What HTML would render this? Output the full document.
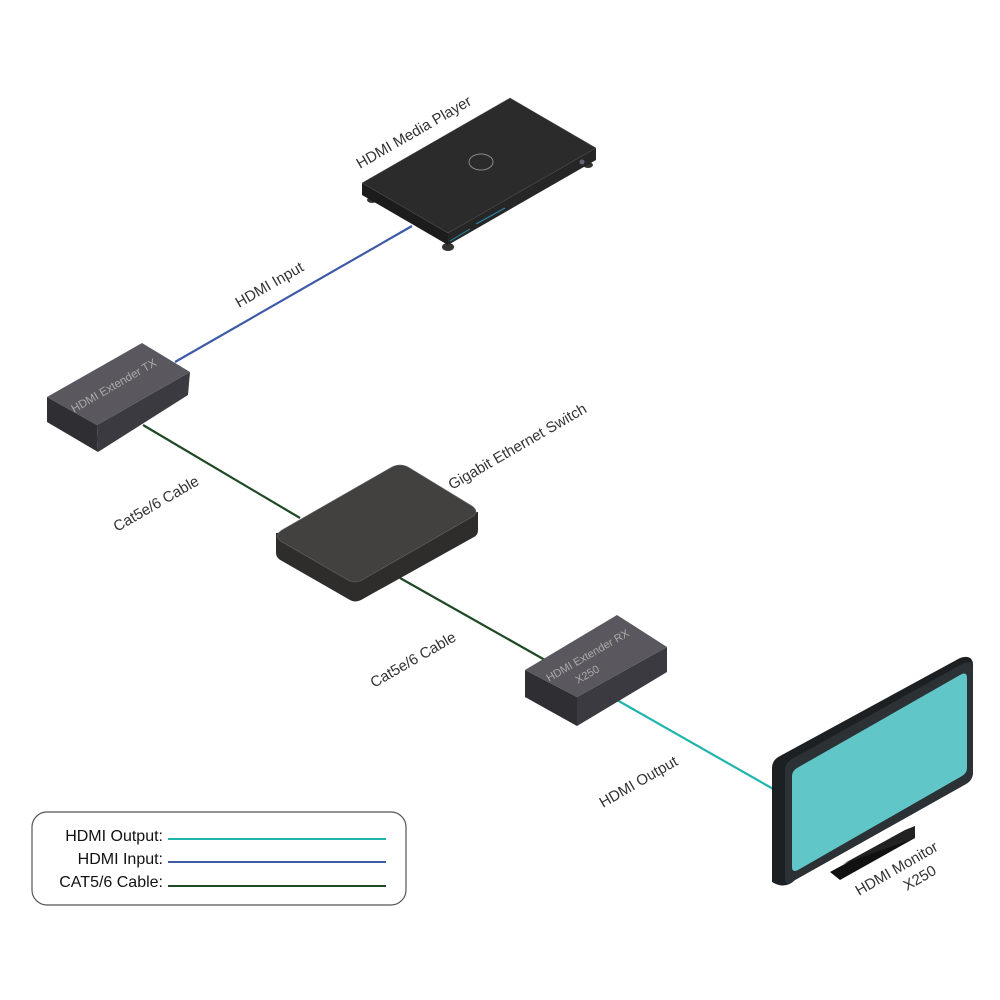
<!DOCTYPE html>
<html><head><meta charset="utf-8"><style>
html,body{margin:0;padding:0;background:#fff}
svg{display:block}
text{font-family:"Liberation Sans",sans-serif}
</style></head><body>
<svg width="1000" height="1000" viewBox="0 0 1000 1000" xmlns="http://www.w3.org/2000/svg">
<rect width="1000" height="1000" fill="#fff"/>
<line x1="175" y1="362" x2="412" y2="226" stroke="#3e5aa8" stroke-width="2.2"/>
<line x1="143" y1="425" x2="300" y2="518" stroke="#1f4a25" stroke-width="2.2"/>
<line x1="400" y1="578" x2="545" y2="660" stroke="#1f4a25" stroke-width="2.2"/>
<line x1="617" y1="700" x2="775" y2="790" stroke="#1fb5ad" stroke-width="2.2"/>

<g>
<ellipse cx="372" cy="200" rx="5" ry="3" fill="#333"/>
<ellipse cx="448" cy="247" rx="6" ry="4" fill="#333"/>
<ellipse cx="588" cy="165" rx="5" ry="3" fill="#333"/>
<polygon points="362,183 448,233 448,245 362,195" fill="#1c1c1c"/>
<polygon points="448,233 596,148 596,160 448,245" fill="#262626"/>
<polygon points="362,183 510,98 596,148 448,233" fill="#2b2b2b" stroke="#555" stroke-width="0.5"/>
<ellipse cx="481" cy="162" rx="12" ry="8" fill="none" stroke="#888" stroke-width="1"/>
<line x1="450" y1="241" x2="470" y2="229" stroke="#2a8ab0" stroke-width="1"/>
<line x1="476" y1="224" x2="505" y2="208" stroke="#2a8ab0" stroke-width="1"/>
<circle cx="582" cy="162" r="2.5" fill="#667"/>
</g>

<polygon points="47,397 97,425 98,452 47,422" fill="#2e2e33"/>
<polygon points="97,425 190,372 188,395 98,452" fill="#3a3a40"/>
<polygon points="47,397 142,343 190,372 97,425" fill="#5a585e"/>
<text transform="translate(74,413) rotate(-30)" font-size="11.5" fill="#aaa">HDMI Extender TX</text>

<path d="M276,533 L276,553 Q276,558 282,561 L350,600 Q355,603 361,600 L474,537 Q478,535 478,530 L478,512 Z" fill="#2e2d2c"/>
<path d="M282,530 L392,467 Q400,463 408,467 L472,506 Q480,512 472,517 L362,580 Q355,584 348,580 L282,542 Q273,536 282,530 Z" fill="#434140" stroke="#666" stroke-width="0.6"/>

<polygon points="525,670 577,697 577,726 525,697" fill="#2e2e33"/>
<polygon points="577,697 667,647 667,672 577,726" fill="#3a3a40"/>
<polygon points="525,670 617,615 667,647 577,697" fill="#5a585e"/>
<text transform="translate(549,682) rotate(-30)" font-size="11" fill="#aaa">HDMI Extender RX</text>
<text transform="translate(578,684) rotate(-30)" font-size="11" fill="#aaa">X250</text>

<polygon points="830,872 915,826 915,838 840,880" fill="#111"/>
<polygon points="843,864 905,830 915,826 915,838" fill="#222"/>
<path d="M772,768 Q772,760 780,756 L960,658 Q972,654 973,664 L973,772 Q973,780 966,784 L795,880 Q785,890 772,882 Z" fill="#1d2022"/>
<path d="M785,770 Q785,763 792,759 L962,664 Q973,659 973,668 L973,772 Q973,780 966,784 L795,880 Q785,889 785,878 Z" fill="#2b3134"/>
<path d="M792,776 Q792,771 797,768 L960,675 Q967,671 967,678 L967,768 Q967,773 962,776 L798,870 Q792,873 792,867 Z" fill="#60c6c8"/>

<g font-size="15" fill="#333">
<text transform="translate(360,169) rotate(-30)">HDMI Media Player</text>
<text transform="translate(239,308) rotate(-30)">HDMI Input</text>
<text transform="translate(117,532) rotate(-30)">Cat5e/6 Cable</text>
<text transform="translate(452,490) rotate(-30)">Gigabit Ethernet Switch</text>
<text transform="translate(374,688) rotate(-30)">Cat5e/6 Cable</text>
<text transform="translate(603,808) rotate(-30)">HDMI Output</text>
<text transform="translate(859,896) rotate(-30)">HDMI Monitor</text>
<text transform="translate(907,891) rotate(-30)">X250</text>
</g>

<rect x="32" y="812" width="374" height="93" rx="15" fill="#fff" stroke="#555" stroke-width="1.2"/>
<g font-size="16" fill="#111" text-anchor="end">
<text x="163" y="841">HDMI Output:</text>
<text x="163" y="864">HDMI Input:</text>
<text x="163" y="887">CAT5/6 Cable:</text>
</g>
<line x1="168" y1="839" x2="386" y2="839" stroke="#1fb5ad" stroke-width="2"/>
<line x1="168" y1="862" x2="386" y2="862" stroke="#3e5aa8" stroke-width="2"/>
<line x1="168" y1="886" x2="386" y2="886" stroke="#1f4a25" stroke-width="2"/>
</svg>
</body></html>
